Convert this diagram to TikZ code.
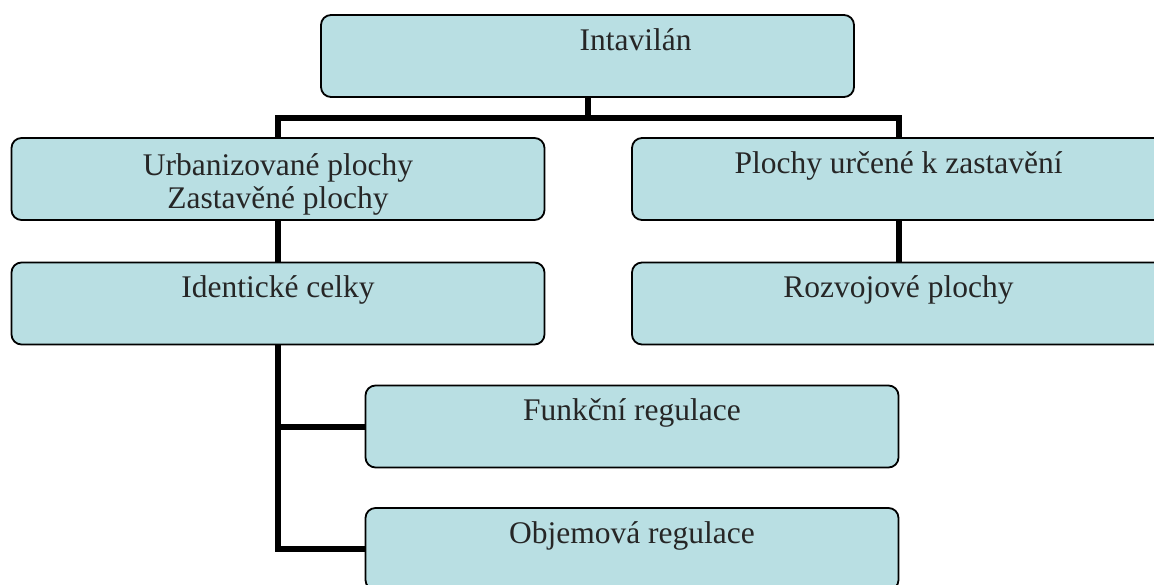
\documentclass[tikz,border=0pt]{standalone}
\usepackage{fontspec}
\setmainfont{Liberation Serif}
\usetikzlibrary{positioning}
\definecolor{boxfill}{RGB}{185,223,227}

\begin{document}
\begin{tikzpicture}[x=0.5pt, y=-0.5pt,
  box/.style={draw=black, line width=0.9pt, fill=boxfill, rounded corners=5pt,
    minimum width=266.5pt, inner sep=0pt, text height=17.5pt, text depth=23.5pt,
    align=center, text=black!85, font=\fontsize{15.75}{16.5}\selectfont},
  conn/.style={line width=3pt}]
\useasboundingbox (0,0) rectangle (1154,584);
%% \draw[help lines] (0,0) grid[step=50] (1154,584);
\node[box] (intav) at (587.5,56) {\hspace*{48pt}Intavilán};
\node[box, text height=35pt, text depth=6pt] (urb) at (278,179) {Urbanizované plochy\\Zastavěné plochy};
\node[box] (ident) at (278,303.5) {Identické celky};
\node[box] (plochy) at (898.5,179) {Plochy určené k zastavění};
\node[box] (rozv) at (898.5,303.5) {Rozvojové plochy};
\node[box] (funk) at (632,426.5) {Funkční regulace};
\node[box] (obj) at (632,549) {Objemová regulace};

\coordinate (bus) at (587.5,118);
\draw[conn] (intav.south) -- (bus);
\draw[conn] (urb.north) |- (bus) -| (plochy.north);
\draw[conn] (urb.south) -- (ident.north);
\draw[conn] (plochy.south) -- (rozv.north);
\draw[conn] (ident.south) |- (funk.west);
\draw[conn] (ident.south) |- (obj.west);
\end{tikzpicture}
\end{document}
